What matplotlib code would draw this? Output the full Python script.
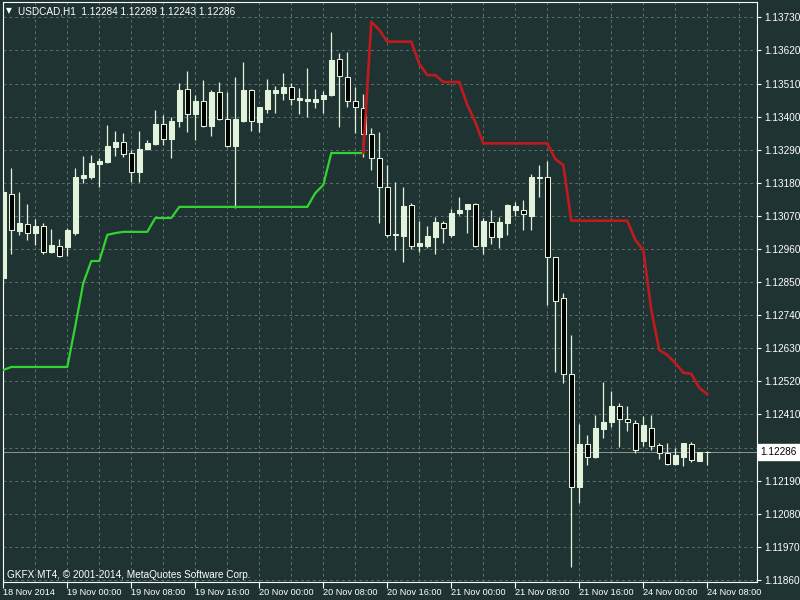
import numpy as np
import matplotlib
matplotlib.use('Agg')
import matplotlib.pyplot as plt
from matplotlib.patches import Rectangle
from matplotlib.transforms import blended_transform_factory

# ---------------- data ----------------
symbol = "USDCAD,H1"
time_labels = ["18 Nov 2014", "19 Nov 00:00", "19 Nov 08:00", "19 Nov 16:00",
               "20 Nov 00:00", "20 Nov 08:00", "20 Nov 16:00", "21 Nov 00:00",
               "21 Nov 08:00", "21 Nov 16:00", "24 Nov 00:00", "24 Nov 08:00"]
price_ticks = [1.11860, 1.11970, 1.12080, 1.12190, 1.12300, 1.12410, 1.12520,
               1.12630, 1.12740, 1.12850, 1.12960, 1.13070, 1.13180, 1.13290,
               1.13400, 1.13510, 1.13620, 1.13730]

opens = [1.12864, 1.13143, 1.13020, 1.13043, 1.13013, 1.13036, 1.12950, 1.12970, 1.12967, 1.13013,
         1.13196, 1.13199, 1.13242, 1.13249, 1.13299, 1.13316, 1.13279, 1.13216, 1.13292, 1.13309,
         1.13375, 1.13326, 1.13385, 1.13492, 1.13409, 1.13452, 1.13369, 1.13482, 1.13392, 1.13302,
         1.13385, 1.13488, 1.13382, 1.13425, 1.13478, 1.13478, 1.13498, 1.13455, 1.13452, 1.13449,
         1.13458, 1.13472, 1.13591, 1.13532, 1.13452, 1.13429, 1.13342, 1.13262, 1.13166, 1.13007,
         1.13003, 1.13106, 1.12970, 1.12970, 1.13000, 1.13046, 1.13007, 1.13080, 1.13093, 1.13110,
         1.12970, 1.13050, 1.13000, 1.13046, 1.13090, 1.13090, 1.13070, 1.13196, 1.13199, 1.12933,
         1.12797, 1.12545, 1.12169, 1.12312, 1.12269, 1.12362, 1.12385, 1.12438, 1.12395, 1.12382,
         1.12322, 1.12365, 1.12309, 1.12282, 1.12245, 1.12269, 1.12312, 1.12255, 1.12284]
highs = [1.13163, 1.13229, 1.13149, 1.13110, 1.13060, 1.13046, 1.13026, 1.12993, 1.13030, 1.13229,
         1.13269, 1.13272, 1.13262, 1.13372, 1.13352, 1.13346, 1.13289, 1.13352, 1.13322, 1.13422,
         1.13405, 1.13399, 1.13512, 1.13552, 1.13472, 1.13522, 1.13488, 1.13515, 1.13482, 1.13532,
         1.13581, 1.13492, 1.13432, 1.13525, 1.13502, 1.13545, 1.13512, 1.13495, 1.13562, 1.13492,
         1.13485, 1.13681, 1.13611, 1.13615, 1.13498, 1.13475, 1.13362, 1.13349, 1.13239, 1.13183,
         1.13166, 1.13113, 1.13053, 1.13036, 1.13066, 1.13053, 1.13093, 1.13133, 1.13110, 1.13113,
         1.13063, 1.13090, 1.13066, 1.13110, 1.13116, 1.13123, 1.13209, 1.13239, 1.13252, 1.12933,
         1.12814, 1.12674, 1.12378, 1.12342, 1.12408, 1.12518, 1.12488, 1.12448, 1.12438, 1.12392,
         1.12405, 1.12408, 1.12315, 1.12315, 1.12299, 1.12315, 1.12319, 1.12287, 1.12289]
lows = [1.12857, 1.12943, 1.13007, 1.12990, 1.12973, 1.12943, 1.12947, 1.12933, 1.12937, 1.13007,
        1.13179, 1.13193, 1.13166, 1.13246, 1.13269, 1.13266, 1.13183, 1.13183, 1.13289, 1.13306,
        1.13306, 1.13262, 1.13365, 1.13349, 1.13322, 1.13365, 1.13336, 1.13389, 1.13299, 1.13096,
        1.13382, 1.13352, 1.13349, 1.13412, 1.13412, 1.13455, 1.13439, 1.13409, 1.13399, 1.13429,
        1.13412, 1.13468, 1.13365, 1.13432, 1.13346, 1.13266, 1.13223, 1.13046, 1.13000, 1.12957,
        1.12917, 1.12960, 1.12950, 1.12963, 1.12943, 1.12980, 1.13000, 1.13073, 1.13013, 1.12967,
        1.12943, 1.12977, 1.12963, 1.13007, 1.13070, 1.13023, 1.13023, 1.13133, 1.12774, 1.12551,
        1.12515, 1.11903, 1.12116, 1.12242, 1.12265, 1.12332, 1.12368, 1.12302, 1.12355, 1.12282,
        1.12305, 1.12292, 1.12262, 1.12242, 1.12242, 1.12239, 1.12252, 1.12255, 1.12243]
closes = [1.13149, 1.13023, 1.13046, 1.13013, 1.13036, 1.12950, 1.12973, 1.12937, 1.13023, 1.13199,
          1.13206, 1.13246, 1.13252, 1.13302, 1.13316, 1.13276, 1.13216, 1.13292, 1.13312, 1.13375,
          1.13326, 1.13385, 1.13488, 1.13409, 1.13452, 1.13369, 1.13482, 1.13392, 1.13302, 1.13392,
          1.13488, 1.13385, 1.13432, 1.13488, 1.13488, 1.13498, 1.13458, 1.13462, 1.13458, 1.13458,
          1.13472, 1.13588, 1.13535, 1.13452, 1.13432, 1.13342, 1.13262, 1.13166, 1.13007, 1.13010,
          1.13103, 1.12970, 1.12980, 1.13003, 1.13050, 1.13030, 1.13080, 1.13090, 1.13110, 1.12970,
          1.13053, 1.13000, 1.13050, 1.13106, 1.13103, 1.13076, 1.13199, 1.13199, 1.12933, 1.12787,
          1.12545, 1.12169, 1.12312, 1.12269, 1.12365, 1.12385, 1.12438, 1.12395, 1.12385, 1.12292,
          1.12375, 1.12305, 1.12282, 1.12245, 1.12275, 1.12315, 1.12259, 1.12287, 1.12286]

nan = float('nan')
# uptrend (support) line, bars 0..45
green_line = [1.12558, 1.12568, 1.12568, 1.12568, 1.12568, 1.12568, 1.12568, 1.12568, 1.12568, 1.12704,
              1.12847, 1.12920, 1.12920, 1.13007, 1.13013, 1.13017, 1.13017, 1.13017, 1.13017, 1.13063,
              1.13063, 1.13063, 1.13100, 1.13100, 1.13100, 1.13100, 1.13100, 1.13100, 1.13100, 1.13100,
              1.13100, 1.13100, 1.13100, 1.13100, 1.13100, 1.13100, 1.13100, 1.13100, 1.13100, 1.13146,
              1.13173, 1.13279, 1.13279, 1.13279, 1.13279, 1.13279] + [nan] * 43
# downtrend (resistance) line, bars 45..88
red_line = [nan] * 45 + [1.13279, 1.13715, 1.13688, 1.13649, 1.13649, 1.13649, 1.13649, 1.13575, 1.13538,
                         1.13538, 1.13515, 1.13515, 1.13515, 1.13439, 1.13382, 1.13311, 1.13311, 1.13311,
                         1.13311, 1.13311, 1.13311, 1.13311, 1.13311, 1.13311, 1.13259, 1.13239, 1.13054,
                         1.13054, 1.13054, 1.13054, 1.13054, 1.13054, 1.13054, 1.13054, 1.12990, 1.12957,
                         1.12757, 1.12624, 1.12608, 1.12581, 1.12549, 1.12545, 1.12498, 1.12478]

# ---------------- style ----------------
plt.rcParams['font.family'] = ['Liberation Sans', 'DejaVu Sans']

BG = '#1f3432'
GRID = '#5b6e6b'
CANDLE = '#e3f2da'
FS = 7.2
FS_TIME = 6.6

n = len(opens)
x = np.arange(n)

W, H = 800, 600
fig = plt.figure(figsize=(8, 6), dpi=100, facecolor=BG)
L, R, T, B = 3.3, 757.0, 2.0, 582.0
ax = fig.add_axes([L / W, (H - B) / H, (R - L) / W, (B - T) / H])
ax.set_facecolor(BG)

px_per_bar = 8.0
ax.set_xlim(0, (R - L) / px_per_bar)
ax.set_ylim(1.118533, 1.137809)

# grid
for gx in np.arange(0, (R - L) / px_per_bar, 4):
    ax.axvline(gx, color=GRID, lw=0.7, ls=(0, (3, 3)), zorder=1)
for gy in price_ticks:
    ax.axhline(gy, color=GRID, lw=0.7, ls=(0, (3, 3)), zorder=1)

# candles
bw = 0.56
for i in range(n):
    o, h, l, c = opens[i], highs[i], lows[i], closes[i]
    ax.vlines(i, l, h, color=CANDLE, lw=0.9, zorder=3)
    bull = c >= o
    bottom = min(o, c)
    height = max(abs(c - o), 0.000006)
    ax.add_patch(Rectangle((i - bw / 2, bottom), bw, height,
                           facecolor=CANDLE if bull else '#000000',
                           edgecolor=CANDLE, lw=0.75, zorder=4))

# indicator lines
ax.plot(x, green_line, color='#32d432', lw=1.6, zorder=5, solid_joinstyle='round')
ax.plot(x, red_line, color='#c01a1e', lw=1.9, zorder=5, solid_joinstyle='round')

# current price line
last = closes[-1]
ax.axhline(last, color='#8a9794', lw=0.7, zorder=2)

# axes / ticks
for s in ax.spines.values():
    s.set_color('white')
    s.set_linewidth(0.8)

ax.yaxis.tick_right()
ax.set_yticks(price_ticks)
ax.set_yticklabels([f"{p:.5f}" for p in price_ticks])
ax.tick_params(axis='y', colors='white', labelcolor='white', length=3, width=0.8,
               pad=2.0, labelsize=FS, direction='out')

ax.set_xticks(np.arange(0, n, 8))
ax.set_xticklabels(time_labels, ha='left')
ax.tick_params(axis='x', colors='white', labelcolor='white', length=4, width=0.8,
               pad=0.5, labelsize=FS_TIME, direction='out')

# current price label box
tr = blended_transform_factory(ax.transAxes, ax.transData)
ax.text(1.0 + 3.5 / (R - L), last, f"{last:.5f}", transform=tr, ha='left', va='center',
        fontsize=FS, color='black', zorder=20, clip_on=False,
        bbox=dict(boxstyle='square,pad=0.3', fc='white', ec='white'))

# header and footer texts
fig.text(9 / W, 1 - 11 / H, '\u25BC', color='white', fontsize=5.5, ha='center', va='center',
         family=['DejaVu Sans'])
fig.text(18 / W, 1 - 11 / H,
         f"{symbol}  {opens[-1]:.5f} {highs[-1]:.5f} {lows[-1]:.5f} {closes[-1]:.5f}",
         color='white', fontsize=FS, ha='left', va='center')
fig.text(7 / W, 1 - 575 / H, 'GKFX MT4, \u00A9 2001-2014, MetaQuotes Software Corp.',
         color='white', fontsize=FS, ha='left', va='center')

fig.savefig('out.png', dpi=100, facecolor=BG)
